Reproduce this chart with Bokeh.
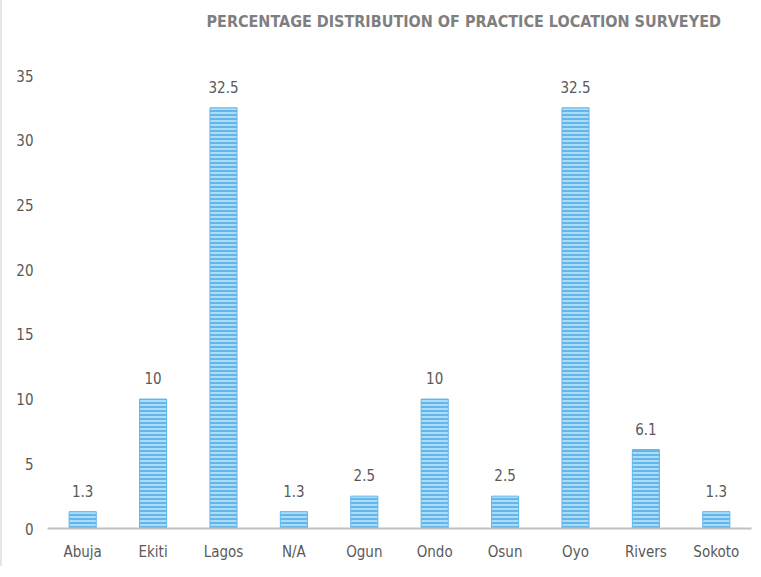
from bokeh.plotting import figure
from bokeh.models import ColumnDataSource, Range1d, FixedTicker, LabelSet, Title
from bokeh.core.properties import value
from bokeh.embed import file_html
from bokeh.resources import INLINE

locations = ["Abuja", "Ekiti", "Lagos", "N/A", "Ogun", "Ondo", "Osun", "Oyo", "Rivers", "Sokoto"]
percentages = [1.3, 10, 32.5, 1.3, 2.5, 10, 2.5, 32.5, 6.1, 1.3]
y_ticks = [0, 5, 10, 15, 20, 25, 30, 35]
title_text = "PERCENTAGE DISTRIBUTION OF PRACTICE LOCATION SURVEYED"

labels = [("%g" % v) for v in percentages]
src = ColumnDataSource(dict(x=locations, top=percentages, lab=labels))

FONT = "DejaVu Sans Condensed"
GRAY = "#595959"

p = figure(x_range=locations, y_range=Range1d(0, 35),
           frame_width=704, frame_height=453,
           output_backend="svg", toolbar_location=None,
           min_border_left=45, min_border_right=1, min_border_top=75, min_border_bottom=38,
           styles={"border-left": "2px solid #e6e6e6"})
p.title = None

title = Title(text=title_text + "\n \n ", align="left", offset=159, standoff=10,
              vertical_align="top",
              text_font=FONT, text_font_size="16px", text_font_style="bold",
              text_color="#7f7f7f")
p.add_layout(title, "above")

p.vbar(x="x", top="top", width=0.385, source=src,
       fill_color="#a9ddf9", line_color="#62b6ea", line_width=1,
       hatch_pattern="horizontal_line", hatch_color="#4ea8e3",
       hatch_scale=4, hatch_weight=1.5)

lbl = LabelSet(x="x", y="top", text="lab", source=src, text_align="center",
               text_baseline="bottom", y_offset=15, text_font=value(FONT),
               text_font_size=value("15px"), text_color=GRAY)
p.add_layout(lbl)

p.xgrid.grid_line_color = None
p.ygrid.grid_line_color = None
p.outline_line_color = None

p.yaxis.ticker = FixedTicker(ticks=y_ticks)
p.yaxis.axis_line_color = None
p.yaxis.major_tick_line_color = None
p.yaxis.minor_tick_line_color = None
p.yaxis.major_label_text_font = FONT
p.yaxis.major_label_text_font_size = "15px"
p.yaxis.major_label_text_color = GRAY
p.yaxis.major_label_standoff = 8

p.xaxis.axis_line_color = "#c0c0c0"
p.xaxis.axis_line_width = 2
p.xaxis.major_tick_line_color = None
p.xaxis.minor_tick_line_color = None
p.xaxis.major_label_text_font = FONT
p.xaxis.major_label_text_font_size = "15px"
p.xaxis.major_label_text_color = GRAY
p.xaxis.major_label_standoff = 8
p.x_range.range_padding = 0.0

open("out.html", "w").write(file_html(p, INLINE))
